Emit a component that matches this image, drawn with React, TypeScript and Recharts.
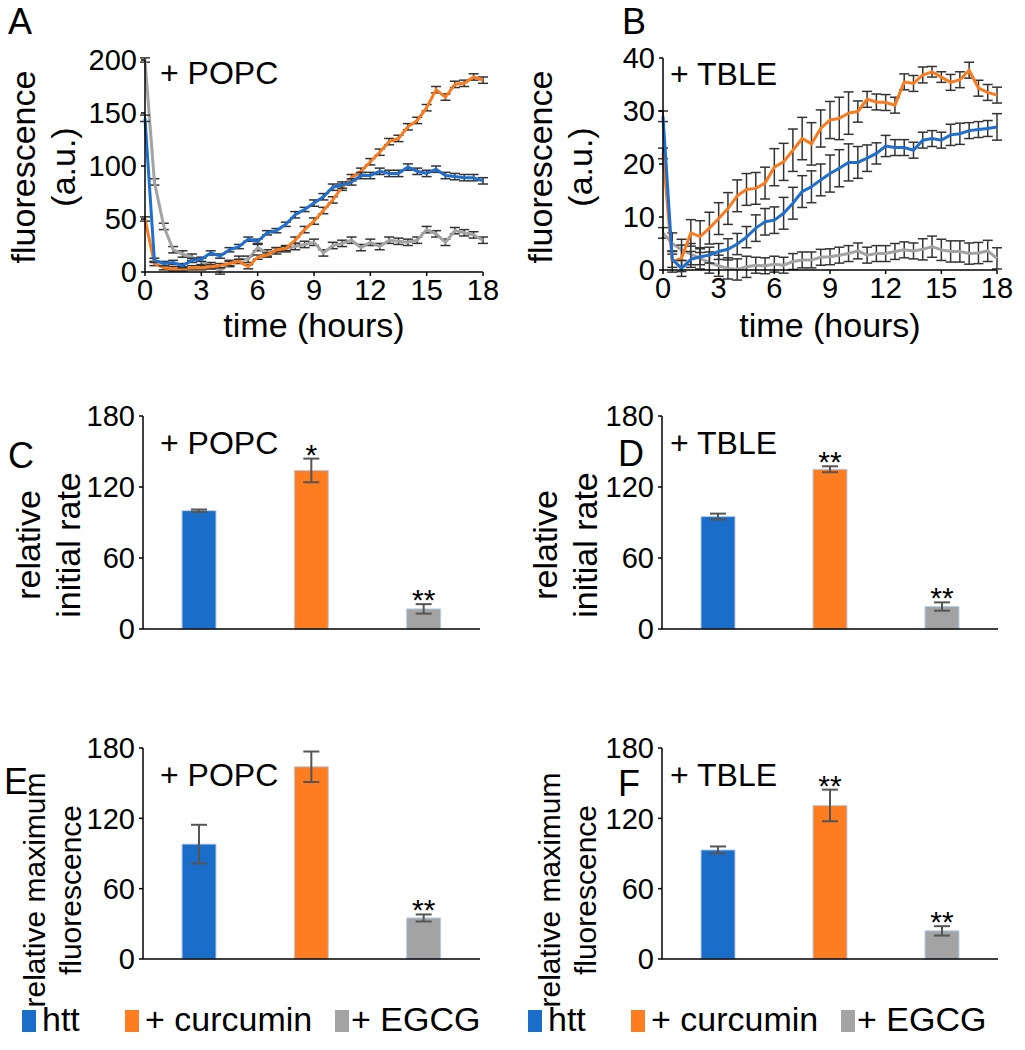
import React from 'react';
import { LineChart, Line, BarChart, Bar, XAxis, YAxis, ErrorBar, Cell, LabelList } from 'recharts';

const FONT = '"Liberation Sans", Arial, sans-serif';
const BLUE = '#1f6fd0';
const ORANGE = '#fa7a1e';
const GRAY = '#a3a3a3';
const BAR_COLORS = ['#1a6ec9', '#fd7d20', '#a3a3a3'];

// time points (hours)
const TIME = [0, 0.5, 1, 1.5, 2, 2.5, 3, 3.5, 4, 4.5, 5, 5.5, 6, 6.5, 7, 7.5, 8, 8.5, 9,
  9.5, 10, 10.5, 11, 11.5, 12, 12.5, 13, 13.5, 14, 14.5, 15, 15.5, 16, 16.5, 17, 17.5, 18];
const TIME_TICKS = [0, 3, 6, 9, 12, 15, 18];

// panel A: + POPC
const A_HTT = [145, 11, 8, 9, 6, 11, 12, 18, 15, 21, 24, 31, 29, 37, 39, 45, 54, 59, 65,
  71, 80, 82, 85, 91, 91, 95, 93, 93, 99, 95, 93, 97, 91, 90, 89, 89, 86];
const A_HTT_ERR = [3, 2, 2, 2, 2, 2, 2, 2, 2, 2, 2, 2, 2, 2, 2, 2, 3, 2, 3,
  3, 3, 3, 3, 3, 3, 3, 3, 3, 3, 3, 3, 3, 3, 3, 3, 3, 3];
const A_CUR = [50, 8, 4, 3, 3, 4, 4, 5, 6, 8, 10, 5, 14, 16, 21, 22, 30, 40, 48,
  58, 68, 80, 89, 95, 104, 113, 123, 126, 137, 143, 155, 172, 165, 177, 178, 184, 181];
const A_CUR_ERR = [2, 2, 2, 2, 2, 2, 2, 2, 2, 2, 2, 2, 2, 2, 2, 2, 3, 3, 3,
  3, 3, 3, 3, 3, 3, 3, 3, 3, 3, 3, 3, 3, 3, 3, 3, 3, 3];
const A_EGCG = [200, 85, 43, 21, 17, 14, 10, 6, 1, 8, 12, 12, 23, 18, 20, 22, 24, 26, 28,
  18, 25, 27, 30, 23, 28, 24, 30, 29, 28, 30, 40, 36, 28, 39, 37, 35, 30];
const A_EGCG_ERR = [2, 3, 3, 3, 3, 3, 3, 3, 3, 3, 3, 3, 3, 3, 3, 3, 3, 3, 3,
  3, 3, 3, 3, 3, 3, 3, 3, 3, 3, 3, 3, 3, 3, 3, 3, 3, 3];

// panel B: + TBLE
const B_HTT = [29, 2, 0.3, 2, 2.5, 2.8, 3.5, 3.9, 4.9, 6.2, 7.9, 9.1, 9.4, 10.7, 12.6, 14.8, 15.7, 17, 18.2,
  19.2, 20.3, 20.3, 21.1, 22, 23.4, 23.1, 23.1, 22.6, 24.5, 24.8, 24.5, 25.5, 25.7, 26.3, 26.5, 26.7, 27];
const B_HTT_ERR = [1, 1.5, 1.5, 1.5, 1.5, 1.5, 1.5, 2, 2, 2, 2.5, 2.5, 2.5, 3, 3, 3, 3, 3, 3.5,
  3.5, 3.5, 3, 2.5, 2, 2, 1.5, 1.5, 1.5, 1.5, 1.5, 1.5, 2, 2, 1.5, 1.5, 1.5, 2.5];
const B_CUR = [22, 1.6, 2.2, 7, 6.3, 7.9, 9.7, 11.6, 14, 15.2, 15.4, 16.4, 19.4, 20.4, 22.6, 24.8, 23.8, 26.7, 28.3,
  28.6, 29.6, 29.9, 32.2, 31.7, 31.6, 31.1, 35.5, 35.2, 36.8, 37.4, 36.4, 35.4, 35.9, 37.7, 34.3, 33.5, 33];
const B_CUR_ERR = [1, 2, 2.5, 2.5, 3, 3, 3, 3, 3, 3, 3, 3, 3.5, 3.5, 4, 4, 4, 3.5, 3.5,
  4, 4, 2, 1.5, 1.5, 1.5, 1.5, 1.5, 1.5, 1.5, 1, 1, 1.5, 1.5, 1.5, 1.5, 1.5, 1.5];
const B_EGCG = [7, 5, 3.8, 3, 2.2, 1.4, 0.8, 0.3, 0.1, 0.6, 0.9, 0.8, 1.1, 0.9, 1.6, 1.9, 1.9, 2.4, 2.5,
  2.8, 3.1, 3.6, 2.8, 3.1, 3.1, 3.5, 3.8, 3.6, 3.9, 4.4, 3.8, 3.5, 3.5, 3.1, 3.2, 3.6, 2.2];
const B_EGCG_ERR = [1, 2, 2, 2, 2, 2, 2, 2, 2, 2, 1.5, 1.5, 1.5, 1.5, 1.5, 1.5, 1.5, 1.5, 1.5,
  1.5, 1.5, 1.5, 1.5, 1.5, 1.5, 1.5, 1.5, 1.5, 2, 2, 2, 2, 2, 2, 2, 2, 2];

// bar panels
const GROUPS = ['htt', '+ curcumin', '+ EGCG'];
const BAR_TICKS = [0, 60, 120, 180];
const C_VALUES = [100, 134, 17];
const C_ERR = [1, 10, 4];
const C_SIG = ['', '*', '**'];
const D_VALUES = [95, 135, 19];
const D_ERR = [2.5, 2.5, 3.5];
const D_SIG = ['', '**', '**'];
const E_VALUES = [98, 164, 35];
const E_ERR = [16.5, 13, 3];
const E_SIG = ['', '', '**'];
const F_VALUES = [93, 131, 24];
const F_ERR = [3, 13.5, 4];
const F_SIG = ['', '**', '**'];

const tickStyle = { fill: '#000', fontSize: 29, fontFamily: FONT };
const axisLine = { stroke: '#000', strokeWidth: 1.5 };

function buildRows(htt: number[], hErr: number[], cur: number[], cErr: number[], eg: number[], eErr: number[]) {
  return TIME.map((t, i) => ({
    t, htt: htt[i], httErr: hErr[i], cur: cur[i], curErr: cErr[i], egcg: eg[i], egcgErr: eErr[i],
  }));
}

function TimeCourse({ left, rows, yMax, yTicks, yWidth, right, top, bottomY }: any) {
  const height = 345;
  return (
    <div style={{ position: 'absolute', left, top: 0 }}>
      <LineChart width={500} height={height} data={rows}
        margin={{ top, right, bottom: height - bottomY - 40, left: 0 }}>
        <XAxis dataKey="t" type="number" domain={[0, 18]} ticks={TIME_TICKS} height={40}
          tick={tickStyle} tickSize={4} tickMargin={3} axisLine={axisLine} tickLine={axisLine} />
        <YAxis domain={[0, yMax]} ticks={yTicks} width={yWidth} allowDataOverflow
          tick={tickStyle} tickSize={4} tickMargin={4} axisLine={axisLine} tickLine={axisLine} />
        <Line dataKey="egcg" stroke={GRAY} strokeWidth={3} dot={false} isAnimationActive={false}>
          <ErrorBar dataKey="egcgErr" direction="y" width={5} stroke="#333" strokeWidth={1.5} />
        </Line>
        <Line dataKey="cur" stroke={ORANGE} strokeWidth={3} dot={false} isAnimationActive={false}>
          <ErrorBar dataKey="curErr" direction="y" width={5} stroke="#333" strokeWidth={1.5} />
        </Line>
        <Line dataKey="htt" stroke={BLUE} strokeWidth={3} dot={false} isAnimationActive={false}>
          <ErrorBar dataKey="httErr" direction="y" width={5} stroke="#333" strokeWidth={1.5} />
        </Line>
      </LineChart>
    </div>
  );
}

function BarPanel({ left, top, values, errs, sigs, yWidth, right, plotTop }: any) {
  const rows = GROUPS.map((g, i) => ({ g, v: values[i], err: errs[i], sig: sigs[i] }));
  const height = 280;
  const renderSig = (p: any) => {
    const { x, y, width, height: h, index } = p;
    const row = rows[index];
    if (!row || !row.sig) return null;
    const errPx = (row.err * h) / row.v;
    return (
      <text x={x + width / 2} y={y - errPx + 6} textAnchor="middle" fontSize={30} fontFamily={FONT} fill="#000">
        {row.sig}
      </text>
    );
  };
  return (
    <div style={{ position: 'absolute', left, top }}>
      <BarChart width={500} height={height} data={rows}
        margin={{ top: plotTop, right, bottom: 30, left: 0 }} barCategoryGap={0}>
        <XAxis dataKey="g" tick={false} tickLine={false} height={1} axisLine={axisLine} />
        <YAxis domain={[0, 180]} ticks={BAR_TICKS} width={yWidth}
          tick={tickStyle} tickSize={4} tickMargin={4} axisLine={axisLine} tickLine={axisLine} />
        <Bar dataKey="v" barSize={34} isAnimationActive={false} stroke="#b7cde8" strokeWidth={1}>
          {rows.map((r, i) => <Cell key={r.g} fill={BAR_COLORS[i]} />)}
          <ErrorBar dataKey="err" direction="y" width={8} stroke="#555" strokeWidth={2} />
          <LabelList dataKey="sig" content={renderSig} />
        </Bar>
      </BarChart>
    </div>
  );
}

function Txt({ x, y, size, children, anchor, lh = 1.15 }: any) {
  return (
    <div style={{
      position: 'absolute', left: x, top: y, fontSize: size, fontFamily: FONT, whiteSpace: 'nowrap',
      lineHeight: lh, transform: anchor === 'middle' ? 'translateX(-50%)' : undefined, color: '#000',
    }}>{children}</div>
  );
}

function VLabel({ cx, cy, lines, size = 34, gap = 40 }: any) {
  return (
    <div style={{
      position: 'absolute', left: cx, top: cy, transform: 'translate(-50%, -50%) rotate(-90deg)',
      fontSize: size, lineHeight: `${gap}px`, fontFamily: FONT, textAlign: 'center', whiteSpace: 'nowrap', color: '#000',
    }}>
      {lines.map((l: string) => <div key={l}>{l}</div>)}
    </div>
  );
}

function LegendRow({ x }: any) {
  const items = [
    { label: 'htt', dx: 0, tx: 20 },
    { label: '+ curcumin', dx: 103, tx: 123 },
    { label: '+ EGCG', dx: 313, tx: 329 },
  ];
  return (
    <>
      {items.map((it, i) => (
        <React.Fragment key={it.label}>
          <div style={{ position: 'absolute', left: x + it.dx, top: 1010, width: 14, height: 22, background: BAR_COLORS[i] }} />
          <Txt x={x + it.tx} y={1000} size={34}>{it.label}</Txt>
        </React.Fragment>
      ))}
    </>
  );
}

export default function App() {
  const rowsA = buildRows(A_HTT, A_HTT_ERR, A_CUR, A_CUR_ERR, A_EGCG, A_EGCG_ERR);
  const rowsB = buildRows(B_HTT, B_HTT_ERR, B_CUR, B_CUR_ERR, B_EGCG, B_EGCG_ERR);
  return (
    <div style={{ position: 'absolute', left: 0, top: 0, width: 1025, height: 1050, background: '#fff', fontFamily: FONT }}>
      <TimeCourse left={0} rows={rowsA} yMax={200} yTicks={[0, 50, 100, 150, 200]} yWidth={145} right={17} top={60} bottomY={272} />
      <TimeCourse left={520} rows={rowsB} yMax={40} yTicks={[0, 10, 20, 30, 40]} yWidth={143} right={23} top={58} bottomY={270} />

      <BarPanel left={0} top={380} values={C_VALUES} errs={C_ERR} sigs={C_SIG} yWidth={143} right={20} plotTop={36} />
      <BarPanel left={520} top={380} values={D_VALUES} errs={D_ERR} sigs={D_SIG} yWidth={142} right={22} plotTop={36} />
      <BarPanel left={0} top={710} values={E_VALUES} errs={E_ERR} sigs={E_SIG} yWidth={143} right={20} plotTop={38} />
      <BarPanel left={520} top={710} values={F_VALUES} errs={F_ERR} sigs={F_SIG} yWidth={142} right={22} plotTop={38} />

      <Txt x={8} y={8} size={36} lh={0.8}>A</Txt>
      <Txt x={622} y={8} size={36} lh={0.8}>B</Txt>
      <Txt x={8} y={442} size={36} lh={0.8}>C</Txt>
      <Txt x={618} y={440} size={36} lh={0.8}>D</Txt>
      <Txt x={4} y={768} size={36} lh={0.8}>E</Txt>
      <Txt x={618} y={770} size={36} lh={0.8}>F</Txt>

      <Txt x={160} y={55} size={32}>+ POPC</Txt>
      <Txt x={670} y={56} size={32}>+ TBLE</Txt>
      <Txt x={160} y={425} size={32}>+ POPC</Txt>
      <Txt x={670} y={425} size={32}>+ TBLE</Txt>
      <Txt x={160} y={757} size={32}>+ POPC</Txt>
      <Txt x={670} y={757} size={32}>+ TBLE</Txt>

      <Txt x={314} y={306} size={34} anchor="middle">time (hours)</Txt>
      <Txt x={830} y={306} size={34} anchor="middle">time (hours)</Txt>

      <VLabel cx={43} cy={167} lines={['fluorescence', '(a.u.)']} />
      <VLabel cx={560} cy={167} lines={['fluorescence', '(a.u.)']} />
      <VLabel cx={48} cy={545} lines={['relative', 'initial rate']} />
      <VLabel cx={565} cy={545} lines={['relative', 'initial rate']} />
      <VLabel cx={53} cy={890} lines={['relative maximum', 'fluorescence']} size={30} gap={36} />
      <VLabel cx={568} cy={890} lines={['relative maximum', 'fluorescence']} size={30} gap={36} />

      <LegendRow x={22} />
      <LegendRow x={528} />
    </div>
  );
}
